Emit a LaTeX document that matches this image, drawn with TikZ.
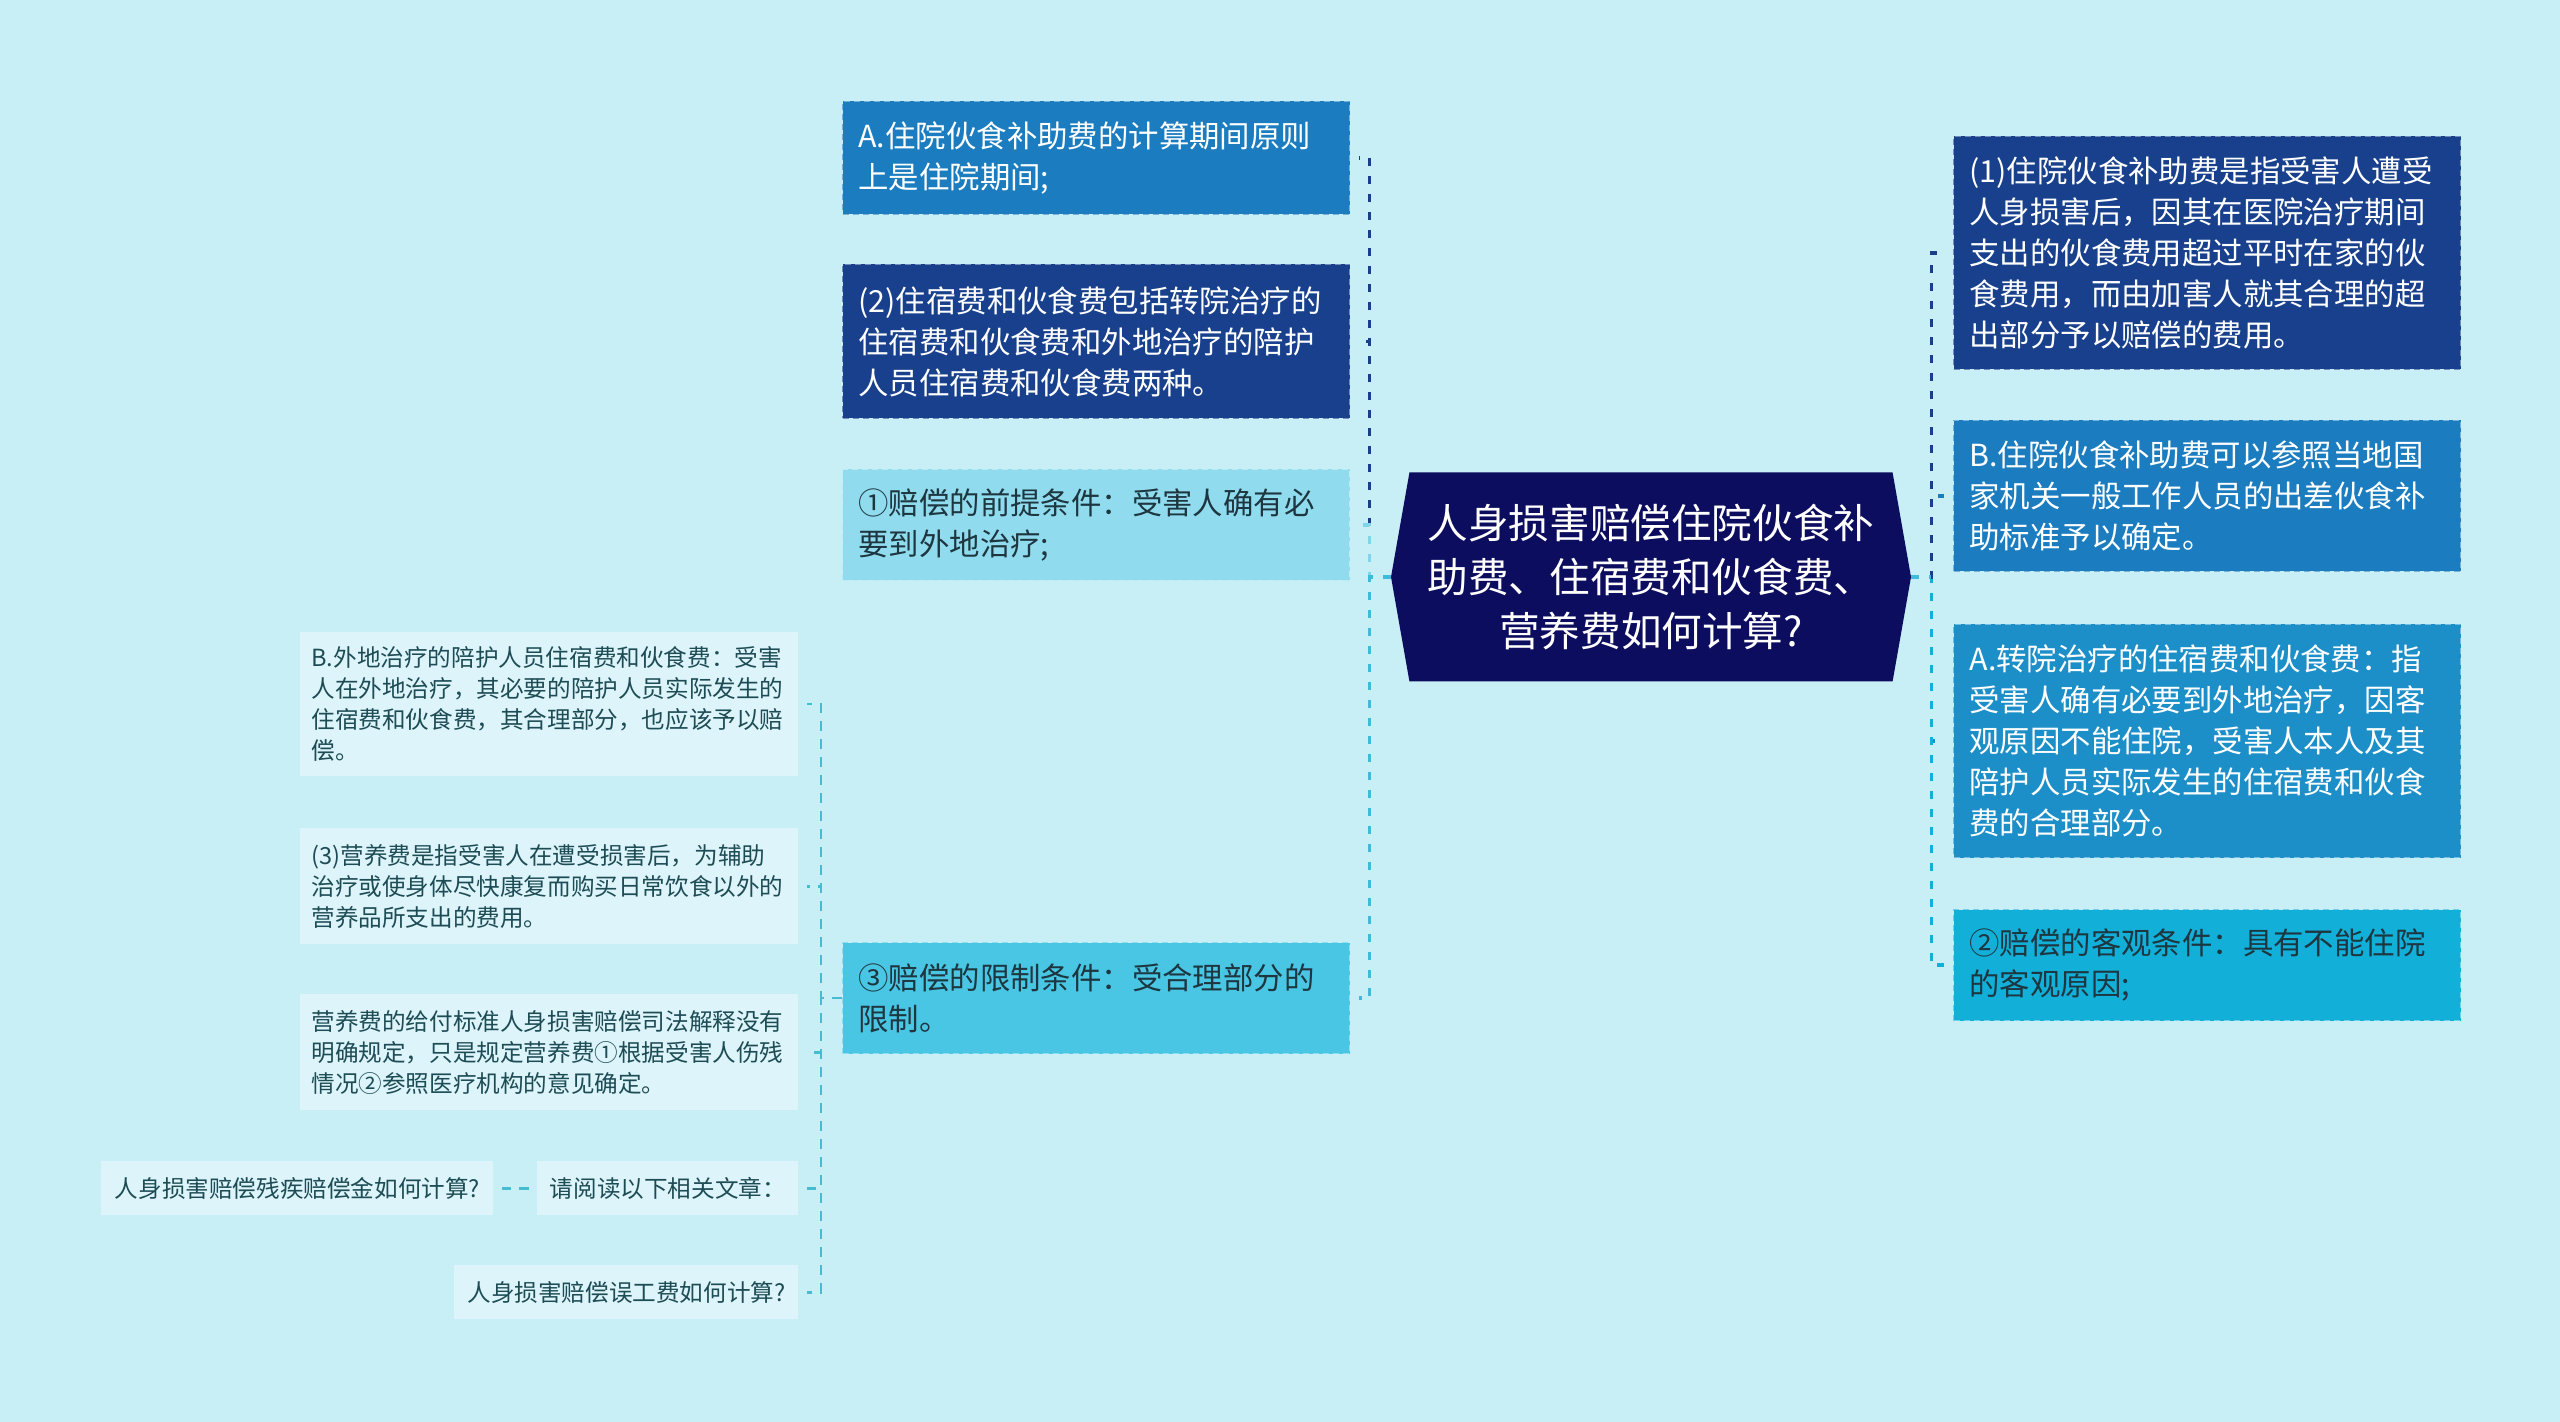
\documentclass[tikz,border=0pt]{standalone}
\usepackage{fontspec}
\setmainfont{Noto Sans CJK SC}
\usepackage{tikz}
\usetikzlibrary{positioning,shapes.symbols}

\definecolor{bgcyan}{HTML}{C9EFF6}
\definecolor{rootnavy}{HTML}{0C0D5E}
\definecolor{deepblue}{HTML}{18408C}
\definecolor{midblue}{HTML}{1B7DBF}
\definecolor{skyblue}{HTML}{1D8FC8}
\definecolor{brightcyan}{HTML}{12B0D8}
\definecolor{softcyan}{HTML}{90DCEE}
\definecolor{limitcyan}{HTML}{49C6E3}
\definecolor{paleleaf}{HTML}{DCF4FA}
\definecolor{darktext}{HTML}{1D3640}
\definecolor{tealtext}{HTML}{1E4C55}
\definecolor{navylink}{HTML}{1A3F8A}
\definecolor{cyanlink}{HTML}{3FBAD8}
\definecolor{teallink}{HTML}{45BCD0}

\begin{document}
\begin{tikzpicture}[x=0.5pt,y=-0.5pt]
  \tikzstyle{box}=[anchor=north west, rectangle, inner xsep=8pt, inner ysep=0pt, align=left, text width=237.5pt, font=\fontsize{15.2pt}{20.5pt}\selectfont, draw, dash pattern=on 3pt off 2pt, line width=0.5pt];
  \tikzstyle{leaf}=[anchor=north west, rectangle, inner xsep=5.5pt, inner ysep=0pt, align=left, text width=238pt, font=\fontsize{11.8pt}{15.5pt}\selectfont, fill=paleleaf, text=tealtext];
  \tikzstyle{tag}=[anchor=north west, rectangle, inner sep=0pt, align=center, minimum height=27pt, font=\fontsize{11.8pt}{15.5pt}\selectfont, fill=paleleaf, text=tealtext];
  \tikzstyle{link}=[dash pattern=on 4pt off 5pt, line width=1.7pt, shorten >=4.5pt];
  \tikzstyle{sublink}=[teallink, dash pattern=on 5pt off 4pt, line width=1.1pt, shorten >=4pt];

  \useasboundingbox (0,0) rectangle (2560,1422);
  \fill [bgcyan] (0,0) rectangle (2560,1422);

  \node [signal, signal to=west and east, signal pointer angle=160, fill=rootnavy, text=white, align=center, minimum width=260pt, minimum height=104.5pt, inner sep=0pt, font=\fontsize{20.3pt}{27pt}\selectfont] at (1651,577) (Root) {人身损害赔偿住院伙食补\\助费、住宿费和伙食费、\\营养费如何计算?};

  \node [box, fill=midblue, draw=midblue!60!white, text=white, minimum height=56.5pt] at (842,101) (PeriodRule) {A.住院伙食补助费的计算期间原则\\上是住院期间;};
  \node [box, fill=deepblue, draw=deepblue!60!white, text=white, minimum height=77pt] at (842,264) (StayCost) {(2)住宿费和伙食费包括转院治疗的\\住宿费和伙食费和外地治疗的陪护\\人员住宿费和伙食费两种。};
  \node [box, fill=softcyan, draw=softcyan!60!white, text=darktext, minimum height=55.5pt] at (842,469) (PremiseCond) {①赔偿的前提条件：受害人确有必\\要到外地治疗;};
  \node [box, fill=limitcyan, draw=limitcyan!60!white, text=darktext, minimum height=55.5pt] at (842,942) (LimitCond) {③赔偿的限制条件：受合理部分的\\限制。};

  \node [box, fill=deepblue, draw=deepblue!60!white, text=white, minimum height=116.5pt] at (1953,136) (MealAid) {(1)住院伙食补助费是指受害人遭受\\人身损害后，因其在医院治疗期间\\支出的伙食费用超过平时在家的伙\\食费用，而由加害人就其合理的超\\出部分予以赔偿的费用。};
  \node [box, fill=midblue, draw=midblue!60!white, text=white, minimum height=75.5pt] at (1953,420) (MealStandard) {B.住院伙食补助费可以参照当地国\\家机关一般工作人员的出差伙食补\\助标准予以确定。};
  \node [box, fill=skyblue, draw=skyblue!60!white, text=white, minimum height=116.5pt] at (1953,624) (Transfer) {A.转院治疗的住宿费和伙食费：指\\受害人确有必要到外地治疗，因客\\观原因不能住院，受害人本人及其\\陪护人员实际发生的住宿费和伙食\\费的合理部分。};
  \node [box, fill=brightcyan, draw=brightcyan!60!white, text=darktext, minimum height=55.5pt] at (1953,909) (ObjectCond) {②赔偿的客观条件：具有不能住院\\的客观原因;};

  \node [leaf, minimum height=72pt] at (300,632) (Escort) {B.外地治疗的陪护人员住宿费和伙食费：受害\\人在外地治疗，其必要的陪护人员实际发生的\\住宿费和伙食费，其合理部分，也应该予以赔\\偿。};
  \node [leaf, minimum height=58pt] at (300,828) (Nutrition) {(3)营养费是指受害人在遭受损害后，为辅助\\治疗或使身体尽快康复而购买日常饮食以外的\\营养品所支出的费用。};
  \node [leaf, minimum height=58pt] at (300,994) (NutritionStd) {营养费的给付标准人身损害赔偿司法解释没有\\明确规定，只是规定营养费①根据受害人伤残\\情况②参照医疗机构的意见确定。};
  \node [tag, minimum width=130.5pt] at (537,1161) (ReadMore) {请阅读以下相关文章：};
  \node [tag, minimum width=196pt] at (101,1161) (Disability) {人身损害赔偿残疾赔偿金如何计算?};
  \node [tag, minimum width=172pt] at (454,1265) (LostWork) {人身损害赔偿误工费如何计算?};

  \draw [link, navylink] (Root.west) -- ++(-21,0) |- (PeriodRule.east);
  \draw [link, navylink] (Root.west) -- ++(-21,0) |- (StayCost.east);
  \draw [link, softcyan!80!cyanlink] (Root.west) -- ++(-21,0) |- (PremiseCond.east);
  \draw [link, cyanlink] (Root.west) -- ++(-21,0) |- (LimitCond.east);

  \draw [link, skyblue] (Root.east) -- ++(20,0) |- (Transfer.west);
  \draw [link, brightcyan] (Root.east) -- ++(20,0) |- (ObjectCond.west);
  \draw [link, midblue] (Root.east) -- ++(20,0) |- (MealStandard.west);
  \draw [link, navylink] (Root.east) -- ++(20,0) |- (MealAid.west);
  \draw [link, cyanlink, shorten >=0pt] (Root.east) -- ++(20,0);

  \draw [sublink] (LimitCond.west) -- ++(-21,0) |- (Escort.east);
  \draw [sublink] (LimitCond.west) -- ++(-21,0) |- (Nutrition.east);
  \draw [sublink] (LimitCond.west) -- ++(-21,0) |- (NutritionStd.east);
  \draw [sublink] (LimitCond.west) -- ++(-21,0) |- (ReadMore.east);
  \draw [sublink] (LimitCond.west) -- ++(-21,0) |- (LostWork.east);
  \draw [sublink, shorten <=4pt] (ReadMore.west) -- (Disability.east);
\end{tikzpicture}
\end{document}
